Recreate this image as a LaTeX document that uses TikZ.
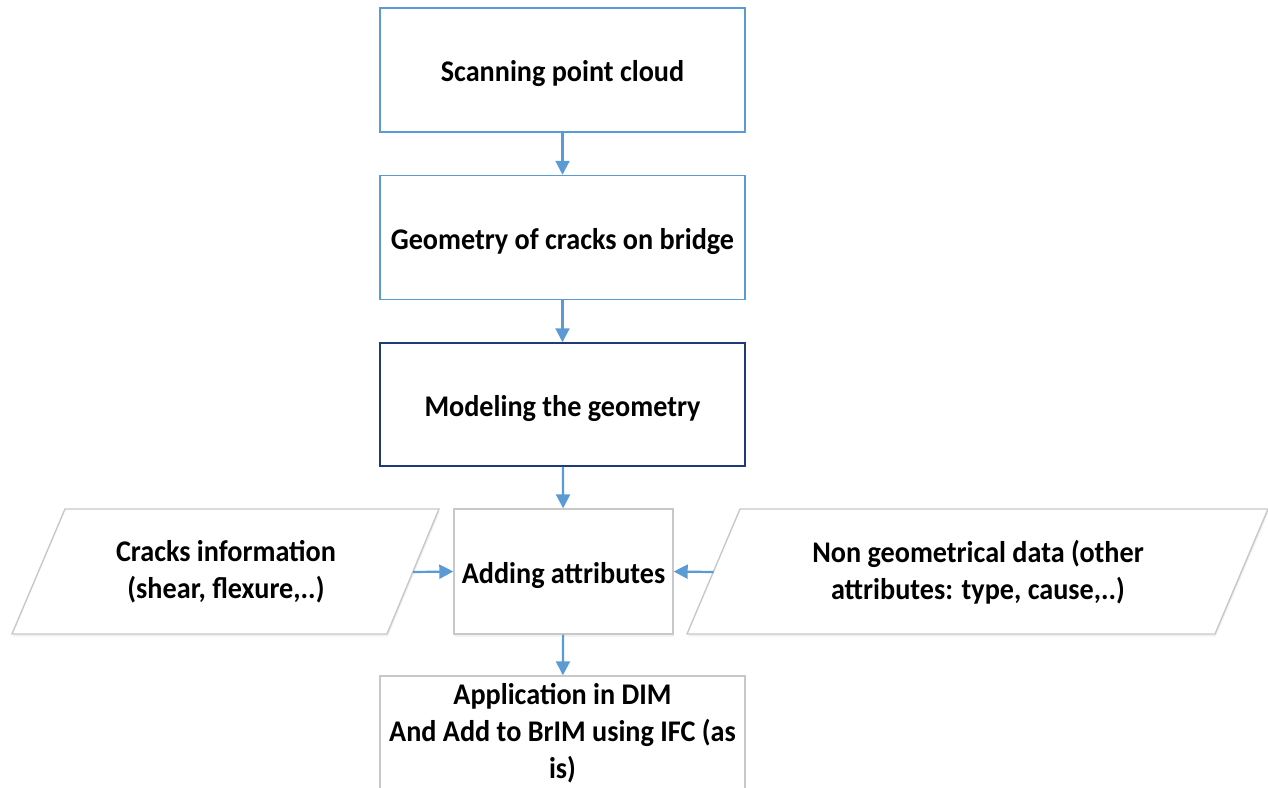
\documentclass[tikz,border=0pt]{standalone}
\usepackage{fontspec}
\setmainfont{Carlito}[FakeStretch=0.94]
\usetikzlibrary{arrows.meta,shadows}
\definecolor{obl}{HTML}{5B9BD5}
\definecolor{navy}{HTML}{1F3A76}
\definecolor{lgray}{HTML}{C8C8C8}
\tikzset{
  txt/.style={font=\fontsize{30}{37}\selectfont\bfseries, align=center},
  oneline/.style={text height=23pt, text depth=0pt},
  bluebox/.style={draw=obl, line width=1.5pt, minimum width=365pt, minimum height=124pt, txt, oneline},
  navybox/.style={draw=navy, line width=1.5pt, minimum width=365pt, minimum height=123pt, txt, oneline},
  grayline/.style={draw=lgray, line width=1.4pt, fill=white,
     drop shadow={opacity=0.10, shadow xshift=1pt, shadow yshift=-2.5pt}},
  graybox/.style={grayline, txt},
  conn/.style={draw=obl, line width=2.2pt, -{Triangle[length=14pt,width=14pt]}}
}
\begin{document}
\begin{tikzpicture}[x=1pt,y=-1pt]
\useasboundingbox (0,0) rectangle (1268,787);
\clip (0,0) rectangle (1268,787);
\node[bluebox] (scan) at (562.5,70) {Scanning point cloud};
\node[bluebox] (geom) at (562.5,237.5) {Geometry of cracks on bridge};
\node[navybox] (model) at (562.5,404.5) {Modeling the geometry};
\node[graybox, oneline, minimum width=219pt, minimum height=125pt] (attr) at (563.5,571.5) {Adding attributes};
% parallelograms
\path[grayline] (65,509) -- (439,509) -- (387,634) -- (12,634) -- cycle;
\path[grayline] (740,509) -- (1268,509) -- (1215,634) -- (687,634) -- cycle;
\node[txt] (crack) at (226,572) {Cracks information\\(shear, flexure,..)};
\node[txt] (nongeo) at (978,572) {Non geometrical data (other\\attributes: type, cause,..)};
\coordinate (crackE) at (413,572);
\coordinate (nongeoW) at (713.5,572);
\node[graybox, minimum width=365pt, minimum height=124pt] (app) at (562.5,738) {};
\node[txt, inner sep=0pt] (apptxt) at (562.5,733) {Application in DIM\\And Add to BrIM using IFC (as\\is)};
\draw[conn] (scan) -- (geom);
\draw[conn] (geom) -- (model);
\draw[conn] (model) -- (attr);
\draw[conn] (crackE) -- (attr.west);
\draw[conn] (nongeoW) -- (attr.east);
\draw[conn] (attr) -- (app);
\end{tikzpicture}
\end{document}
